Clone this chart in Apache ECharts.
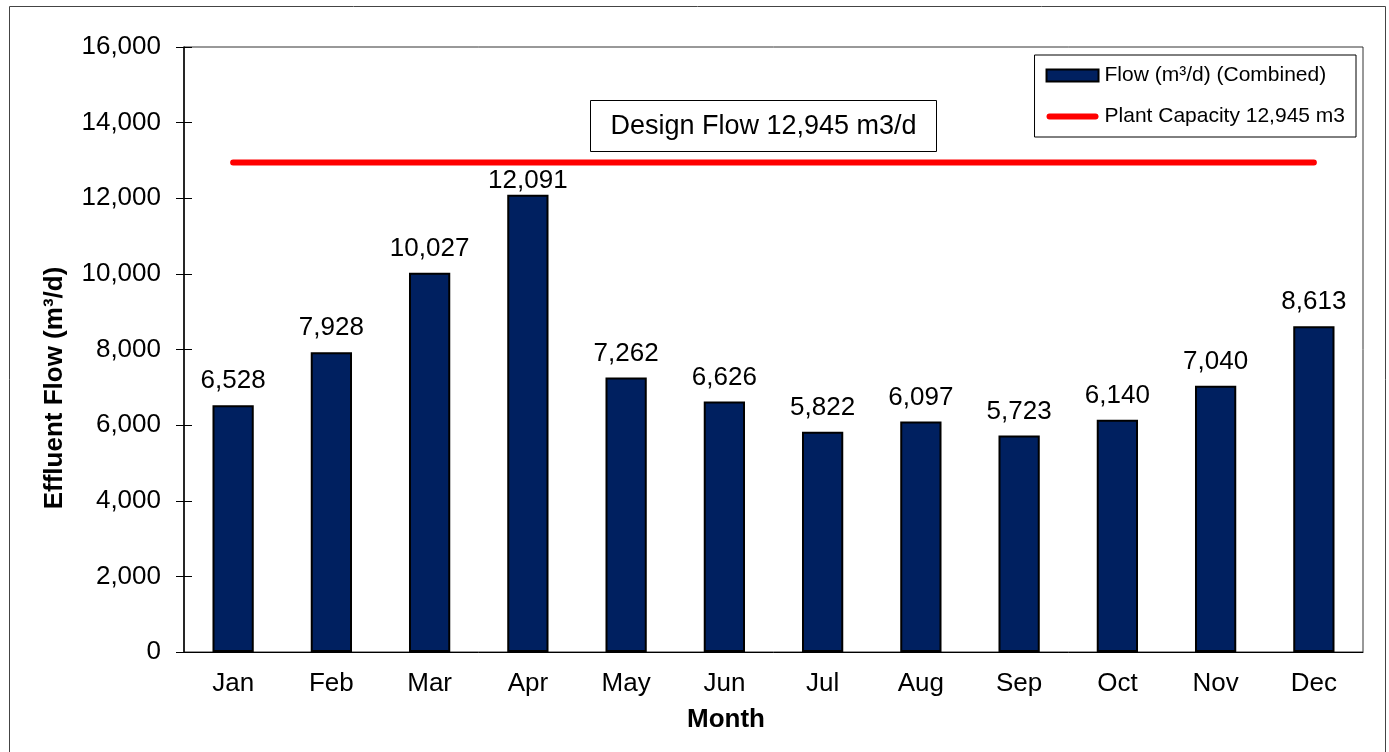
<!DOCTYPE html>
<html>
<head>
<meta charset="utf-8">
<script src="https://cdn.jsdelivr.net/npm/echarts@6/dist/echarts.min.js"></script>
<style>
  html, body { margin: 0; padding: 0; background: #fff; }
  #chart { width: 1389px; height: 752px; }
</style>
</head>
<body>
<div id="chart"></div>
<script>
// data
const months = ['Jan', 'Feb', 'Mar', 'Apr', 'May', 'Jun', 'Jul', 'Aug', 'Sep', 'Oct', 'Nov', 'Dec']
const flowCombined = [6528, 7928, 10027, 12091, 7262, 6626, 5822, 6097, 5723, 6140, 7040, 8613]
const plantCapacity = [12945, 12945, 12945, 12945, 12945, 12945, 12945, 12945, 12945, 12945, 12945, 12945]
const yTicks = { min: 0, max: 16000, interval: 2000 }

const font = 'Liberation Sans, Arial, sans-serif'
const fmt = v => Number(v).toLocaleString('en-US')

// Apr label sits tighter to its bar (it would hit the capacity line otherwise)
const barData = flowCombined.map((v, i) => i === 3 ? { value: v, label: { distance: 1 } } : v)

const chart = echarts.init(document.getElementById('chart'))
chart.setOption({
  animation: false,
  textStyle: { fontFamily: font, color: '#000' },
  grid: {
    left: 184,
    right: 26,
    top: 47,
    bottom: 100,
    show: true,
    borderColor: '#333',
    borderWidth: 1
  },
  legend: {
    orient: 'vertical',
    right: 33,
    top: 55,
    padding: [10, 11, 10, 11],
    itemGap: 20,
    itemWidth: 52,
    itemHeight: 12,
    backgroundColor: '#fff',
    borderColor: '#000',
    borderWidth: 1,
    textStyle: { fontSize: 21, color: '#000', fontFamily: font, padding: [0, 0, 0, 1] },
    data: [
      { name: 'Flow (m³/d) (Combined)', icon: 'rect' },
      { name: 'Plant Capacity 12,945 m3', icon: 'path://M3,0 L49,0 A3,3 0 0 1 49,6 L3,6 A3,3 0 0 1 3,0 Z' }
    ]
  },
  xAxis: {
    type: 'category',
    data: months,
    axisLine: { lineStyle: { color: '#000', width: 1 } },
    axisTick: { show: false },
    axisLabel: { fontSize: 26, color: '#000', margin: 19, fontFamily: font }
  },
  yAxis: [
    {
      type: 'value',
      min: yTicks.min,
      max: yTicks.max,
      interval: yTicks.interval,
      axisLine: { show: true, lineStyle: { color: '#000', width: 1.5 } },
      axisTick: { show: true, length: 8, lineStyle: { color: '#000' } },
      splitLine: { show: false },
      axisLabel: { fontSize: 26, color: '#000', margin: 23, formatter: fmt, fontFamily: font }
    },
    {
      // inner half of the crossing ticks
      type: 'value',
      position: 'left',
      min: yTicks.min,
      max: yTicks.max,
      interval: yTicks.interval,
      axisLine: { show: false },
      axisTick: { show: true, inside: true, length: 8, lineStyle: { color: '#000' } },
      splitLine: { show: false },
      axisLabel: { show: false }
    }
  ],
  graphic: [
    {
      type: 'rect',
      left: 7,
      top: 4,
      shape: { width: 1376, height: 760 },
      style: { fill: 'none', stroke: '#444', lineWidth: 1 },
      silent: true,
      z: -1
    },
    {
      type: 'group',
      left: 590,
      top: 100,
      children: [
        {
          type: 'rect',
          shape: { x: 0, y: 0, width: 346, height: 51 },
          style: { fill: '#fff', stroke: '#000', lineWidth: 1 }
        },
        {
          type: 'text',
          x: 173,
          y: 26,
          style: {
            text: 'Design Flow 12,945 m3/d',
            fontSize: 27,
            fontFamily: font,
            fill: '#000',
            align: 'center',
            verticalAlign: 'middle'
          }
        }
      ]
    },
    {
      type: 'text',
      x: 55,
      y: 388,
      rotation: Math.PI / 2,
      style: {
        text: 'Effluent Flow (m³/d)',
        fontSize: 26,
        fontWeight: 'bold',
        fontFamily: font,
        fill: '#000',
        align: 'center',
        verticalAlign: 'middle'
      }
    },
    {
      type: 'text',
      x: 726,
      y: 720,
      style: {
        text: 'Month',
        fontSize: 26,
        fontWeight: 'bold',
        fontFamily: font,
        fill: '#000',
        align: 'center',
        verticalAlign: 'middle'
      }
    }
  ],
  series: [
    {
      name: 'Flow (m³/d) (Combined)',
      type: 'bar',
      data: barData,
      barWidth: '42%',
      itemStyle: { color: '#002060', borderColor: '#000', borderWidth: 2 },
      label: {
        show: true,
        position: 'top',
        distance: 11,
        fontSize: 26,
        color: '#000',
        fontFamily: font,
        formatter: p => fmt(p.value)
      }
    },
    {
      name: 'Plant Capacity 12,945 m3',
      type: 'line',
      data: plantCapacity,
      symbol: 'none',
      lineStyle: { color: '#ff0000', width: 6, cap: 'round' },
      itemStyle: { color: '#ff0000' },
      z: 3
    }
  ]
})
</script>
</body>
</html>
